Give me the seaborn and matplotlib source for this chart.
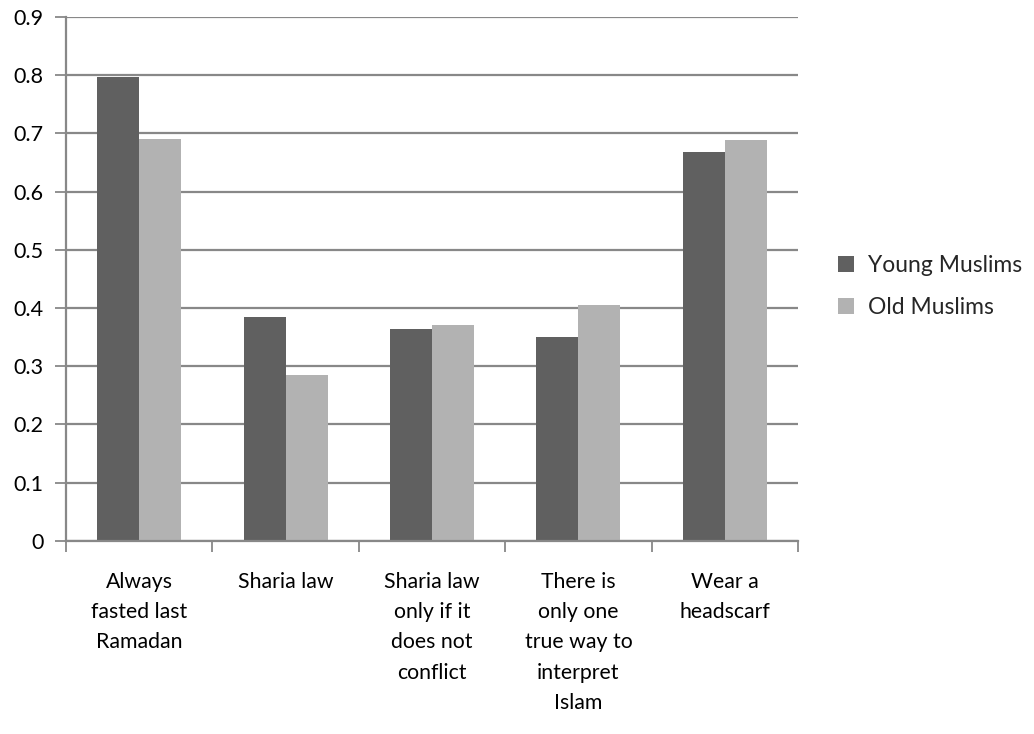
import matplotlib
matplotlib.use('Agg')
import matplotlib.pyplot as plt
import seaborn as sns
import pandas as pd

categories = ['Always\nfasted last\nRamadan', 'Sharia law', 'Sharia law\nonly if it\ndoes not\nconflict',
              'There is\nonly one\ntrue way to\ninterpret\nIslam', 'Wear a\nheadscarf']
series = ['Young Muslims', 'Old Muslims']
young = [0.797, 0.385, 0.364, 0.350, 0.668]
old = [0.690, 0.285, 0.371, 0.405, 0.688]
colors = ['#606060', '#b2b2b2']
y_ticks = [0, 0.1, 0.2, 0.3, 0.4, 0.5, 0.6, 0.7, 0.8, 0.9]
y_labels = ['0', '0.1', '0.2', '0.3', '0.4', '0.5', '0.6', '0.7', '0.8', '0.9']

df = pd.DataFrame({
    'category': categories * 2,
    'group': [series[0]] * len(young) + [series[1]] * len(old),
    'value': young + old,
})

sns.set_theme(style='white')
plt.rcParams['font.family'] = ['Lato', 'DejaVu Sans']

fig = plt.figure(figsize=(10.34, 7.34), dpi=100)
ax = fig.add_axes([0.0638, 0.263, 0.708, 0.714])

sns.barplot(data=df, x='category', y='value', hue='group', order=categories, hue_order=series,
            palette=colors, width=0.574, saturation=1, ax=ax, edgecolor='none', linewidth=0)

grid_col = '#888888'
ax.set_ylim(0, 0.9)
ax.set_xlim(-0.5, 4.5)
ax.set_yticks(y_ticks)
ax.set_yticklabels(y_labels, fontsize=15.5, color='black')
ax.yaxis.grid(True, color=grid_col, linewidth=1.6)
ax.set_axisbelow(True)
ax.tick_params(axis='y', length=8, width=1.3, color=grid_col, pad=8, left=True)

ax.set_xticks(range(len(categories)))
ax.set_xticklabels(categories, fontsize=15.3, color='black', linespacing=1.65, va='top')
ax.set_xticks([i - 0.5 for i in range(len(categories) + 1)], minor=True)
ax.tick_params(axis='x', which='major', length=0, pad=22)
ax.tick_params(axis='x', which='minor', length=8, width=1.3, color=grid_col, bottom=True)

for s in ['top', 'right']:
    ax.spines[s].set_visible(False)
for s in ['left', 'bottom']:
    ax.spines[s].set_color(grid_col)
    ax.spines[s].set_linewidth(1.6)

ax.set_xlabel('')
ax.set_ylabel('')

ax.legend(loc='center left', bbox_to_anchor=(1.027, 0.485), frameon=False, fontsize=16.5,
          handlelength=0.7, handleheight=0.7, handletextpad=0.6, labelspacing=0.9)

fig.savefig('out.png', dpi=100)
